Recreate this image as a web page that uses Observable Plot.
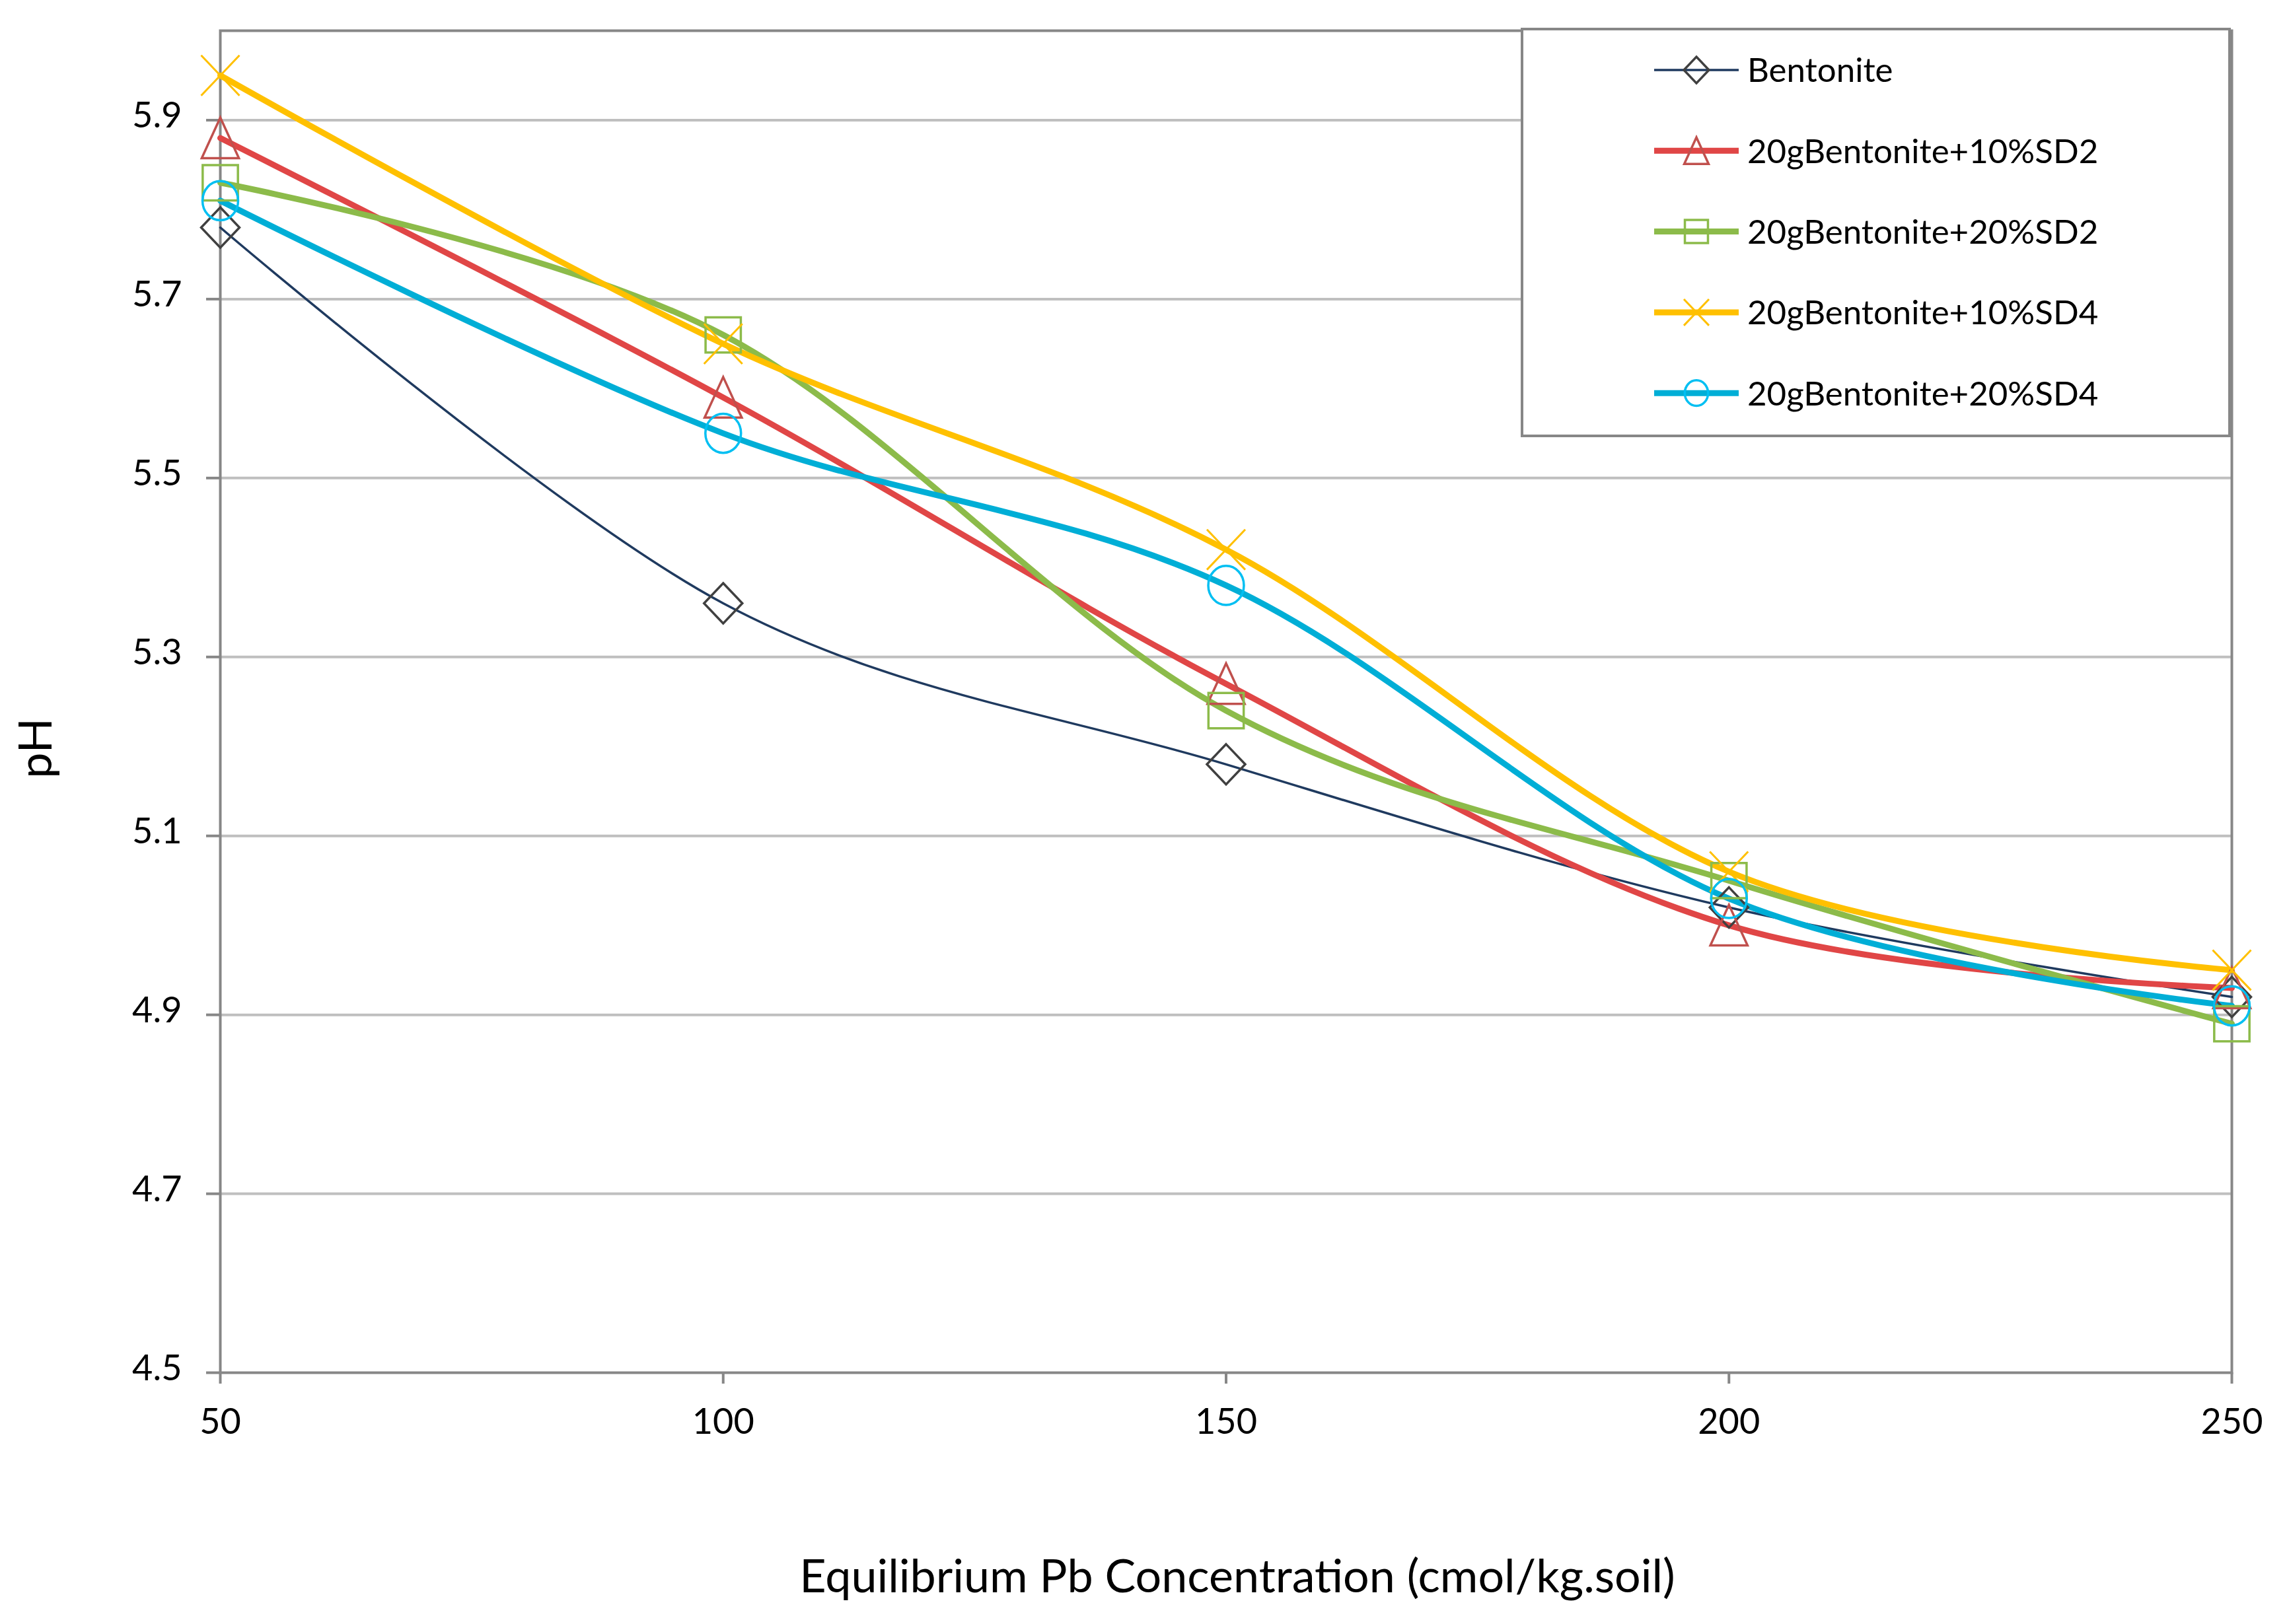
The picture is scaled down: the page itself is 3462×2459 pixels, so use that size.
<!DOCTYPE html>
<html><head><meta charset="utf-8">
<script src="https://cdn.jsdelivr.net/npm/d3@7"></script>
<script src="https://cdn.jsdelivr.net/npm/@observablehq/plot@0.6"></script>
<style>
html,body{margin:0;padding:0;background:#fff;}
#wrap{position:relative;width:3462px;height:2459px;overflow:hidden;}
#wrap svg{display:block;}
#legend{position:absolute;left:0;top:0;pointer-events:none;}
</style></head><body><div id="wrap"></div>
<script>
// ---- data ----
const concentrations = [50, 100, 150, 200, 250];
const seriesNames = ["Bentonite", "20gBentonite+10%SD2", "20gBentonite+20%SD2", "20gBentonite+10%SD4", "20gBentonite+20%SD4"];
const bentonite = [5.78, 5.36, 5.18, 5.02, 4.92];
const sd2_10 = [5.88, 5.59, 5.27, 5.00, 4.93];
const sd2_20 = [5.83, 5.66, 5.24, 5.05, 4.89];
const sd4_10 = [5.95, 5.65, 5.42, 5.06, 4.95];
const sd4_20 = [5.81, 5.55, 5.38, 5.03, 4.91];
const yTicks = [4.5, 4.7, 4.9, 5.1, 5.3, 5.5, 5.7, 5.9];
const gridTicks = [4.7, 4.9, 5.1, 5.3, 5.5, 5.7, 5.9];
const xTicks = [50, 100, 150, 200, 250];
const xTitle = "Equilibrium Pb Concentration (cmol/kg.soil)";
const yTitle = "pH";

// ---- styles ----
const lineColors = ["#1F3A5F", "#E04646", "#8CBB4A", "#FFC000", "#00AED6"];
const markColors = ["#404040", "#C0504D", "#8CBB4A", "#FFC000", "#00BFF2"];
const lineWidths = [3.5, 9, 9, 9, 9];

// custom marker shapes (scaled by symbol size)
function rOf(size){ return Math.sqrt(size / Math.PI); }
const diamondSym = {draw(c, size){ const r = rOf(size);
  c.moveTo(0, -1.05*r); c.lineTo(1.0*r, 0); c.lineTo(0, 1.05*r); c.lineTo(-1.0*r, 0); c.closePath(); }};
const triangleSym = {draw(c, size){ const r = rOf(size);
  c.moveTo(0, -1.07*r); c.lineTo(0.97*r, 1.05*r); c.lineTo(-0.97*r, 1.05*r); c.closePath(); }};
const squareSym = {draw(c, size){ const r = rOf(size); const h = 0.92*r;
  c.moveTo(-h, -h); c.lineTo(h, -h); c.lineTo(h, h); c.lineTo(-h, h); c.closePath(); }};
const timesSym = {draw(c, size){ const r = rOf(size);
  c.moveTo(-r, -1.05*r); c.lineTo(r, 1.05*r); c.moveTo(-r, 1.05*r); c.lineTo(r, -1.05*r); }};
const ellipseSym = {draw(c, size){ const r = rOf(size); const rx = 0.93*r, ry = 1.02*r, k = 0.5523;
  c.moveTo(rx, 0);
  c.bezierCurveTo(rx, ry*k, rx*k, ry, 0, ry);
  c.bezierCurveTo(-rx*k, ry, -rx, ry*k, -rx, 0);
  c.bezierCurveTo(-rx, -ry*k, -rx*k, -ry, 0, -ry);
  c.bezierCurveTo(rx*k, -ry, rx, -ry*k, rx, 0);
  c.closePath(); }};
const symbols = [diamondSym, triangleSym, squareSym, timesSym, ellipseSym];
const markWidths = [3.5, 3.5, 3.5, 3, 3.5];

const seriesValues = [bentonite, sd2_10, sd2_20, sd4_10, sd4_20];
const tables = seriesNames.map((name, i) => concentrations.map((c, j) => ({series: name, x: c, y: seriesValues[i][j]})));

const lineMarks = tables.map((t, i) => Plot.line(t, {x: "x", y: "y", stroke: lineColors[i], strokeWidth: lineWidths[i], curve: "cardinal"}));
const dotMarks = tables.map((t, i) => Plot.dot(t, {x: "x", y: "y", symbol: symbols[i], r: 29, stroke: markColors[i], strokeWidth: markWidths[i], fill: "none"}));

const axisStroke = "#878787";
const chart = Plot.plot({
  width: 3462, height: 2459,
  marginLeft: 333, marginRight: 84, marginTop: 46, marginBottom: 381,
  style: {fontFamily: "Lato", fontSize: "54px", color: "black", background: "white"},
  x: {domain: [50, 250]},
  y: {domain: [4.5, 6.0]},
  marks: [
    Plot.gridY(gridTicks, {stroke: "#BFBFBF", strokeWidth: 4, strokeOpacity: 1}),
    Plot.frame({stroke: axisStroke, strokeWidth: 4}),
    Plot.axisY(yTicks, {tickSize: 21, tickFormat: () => "", stroke: axisStroke, strokeWidth: 4, label: null}),
    Plot.axisY(yTicks, {tickSize: 0, tickPadding: 58, tickFormat: d3.format(".1f"), fill: "black", fontSize: 54, dy: -6, label: null}),
    Plot.axisX(xTicks, {tickSize: 17, tickPadding: 37, tickFormat: d3.format("d"), stroke: axisStroke, strokeWidth: 4, fill: "black", fontSize: 54, label: null}),
    ...lineMarks,
    ...dotMarks,
    Plot.text([xTitle], {text: d => d, frameAnchor: "bottom", dy: 310, dx: 17, fontSize: 70, lineAnchor: "middle", fill: "black"})
  ]
});
const wrap = document.getElementById("wrap");
wrap.appendChild(chart);

// ---- overlay: y title and legend ----
const lg = d3.select(wrap).append("svg").attr("id", "legend").attr("width", 3462).attr("height", 2459);
lg.append("text").attr("transform", "translate(78,1133) rotate(-90)").attr("text-anchor", "middle")
  .attr("font-family", "Lato").attr("font-size", 70).attr("fill", "black").text(yTitle);
const box = {x0: 2304, y0: 44, x1: 3375, y1: 660};
lg.append("rect").attr("x", box.x0).attr("y", box.y0).attr("width", box.x1 - box.x0).attr("height", box.y1 - box.y0)
  .attr("fill", "white").attr("stroke", axisStroke).attr("stroke-width", 4);
const rowY0 = 106, rowStep = 122.3;
seriesNames.forEach((name, i) => {
  const y = rowY0 + i * rowStep;
  const g = lg.append("g").attr("transform", `translate(0,${y})`);
  g.append("line").attr("x1", 2504).attr("x2", 2632).attr("y1", 0).attr("y2", 0)
    .attr("stroke", lineColors[i]).attr("stroke-width", lineWidths[i]);
  g.append("path").attr("transform", "translate(2568,0)")
    .attr("d", d3.symbol(symbols[i], Math.PI * 19 * 19)())
    .attr("fill", "none").attr("stroke", markColors[i]).attr("stroke-width", markWidths[i]);
  g.append("text").attr("x", 2645).attr("y", 0).attr("dy", "0.36em")
    .attr("font-family", "Lato").attr("font-size", 51).attr("fill", "black").text(name);
});
</script>
</body></html>
